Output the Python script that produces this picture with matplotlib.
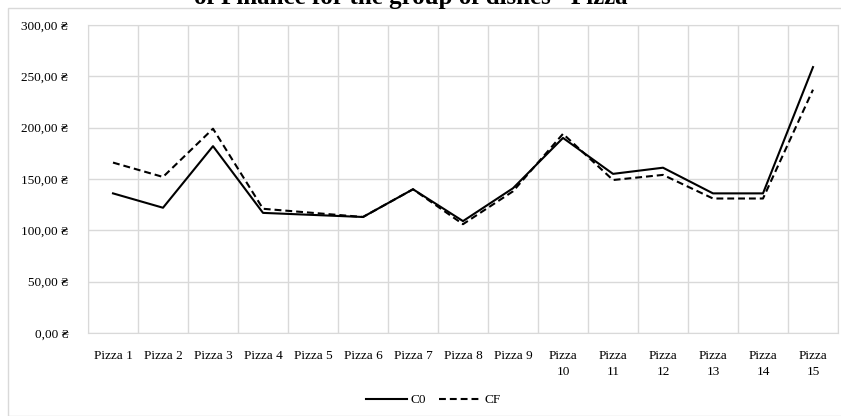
import numpy as np
import matplotlib
matplotlib.use("Agg")
import matplotlib.pyplot as plt
from matplotlib.patches import Rectangle

FONT = ['Liberation Serif', 'DejaVu Serif']
plt.rcParams['font.family'] = FONT

categories = ["Pizza 1", "Pizza 2", "Pizza 3", "Pizza 4", "Pizza 5", "Pizza 6",
              "Pizza 7", "Pizza 8", "Pizza 9", "Pizza\n10", "Pizza\n11", "Pizza\n12",
              "Pizza\n13", "Pizza\n14", "Pizza\n15"]
c0 = [136, 122, 182, 117, 115, 113, 140, 109, 141, 190, 155, 161, 136, 136, 259]
cf = [166, 152, 199, 121, 117, 113, 140, 106, 138, 194, 149, 154, 131, 131, 237]
yticks = [0, 50, 100, 150, 200, 250, 300]

GRID = '#d9d9d9'

fig = plt.figure(figsize=(8.41, 4.16), dpi=100)
fig.patches.append(Rectangle((8/841, 0), 1, 1 - 8/416, transform=fig.transFigure,
                             fill=False, edgecolor=GRID, linewidth=1))
ax = fig.add_axes([88/841, 1 - 333/416, 750/841, 308/416])

x = np.arange(len(categories))
ax.plot(x, c0, color='black', linewidth=1.5, label='C0')
ax.plot(x, cf, color='black', linewidth=1.5, linestyle=(0, (3.3, 1.9)), label='CF')

ax.set_xlim(-0.5, len(categories) - 0.5)
ax.set_ylim(0, 300)
ax.set_xticks(x)
ax.set_xticklabels(categories, fontsize=9.5, linespacing=1.45)
ax.set_xticks(np.arange(-0.5, len(categories)), minor=True)
ax.set_yticks(yticks)
ax.set_yticklabels(["%d,00 ₴" % v for v in yticks], fontsize=9.5)
ax.grid(which='minor', axis='x', color=GRID, linewidth=1)
ax.grid(which='major', axis='y', color=GRID, linewidth=1)
ax.tick_params(which='both', length=0)
ax.tick_params(axis='x', pad=12)
ax.tick_params(axis='y', pad=14)
for s in ax.spines.values():
    s.set_color(GRID)
ax.set_axisbelow(True)

ax.legend(loc='center', bbox_to_anchor=(0.46, -0.218), ncol=2, frameon=False,
          fontsize=9.5, handlelength=3.1, columnspacing=1.0, handletextpad=0.3)

fig.text(0.497, 1 - 4/416, 'of Finance for the group of dishes "Pizza"', ha='center', va='baseline',
         fontsize=18, fontweight='bold')

fig.savefig("out.png", dpi=100)
